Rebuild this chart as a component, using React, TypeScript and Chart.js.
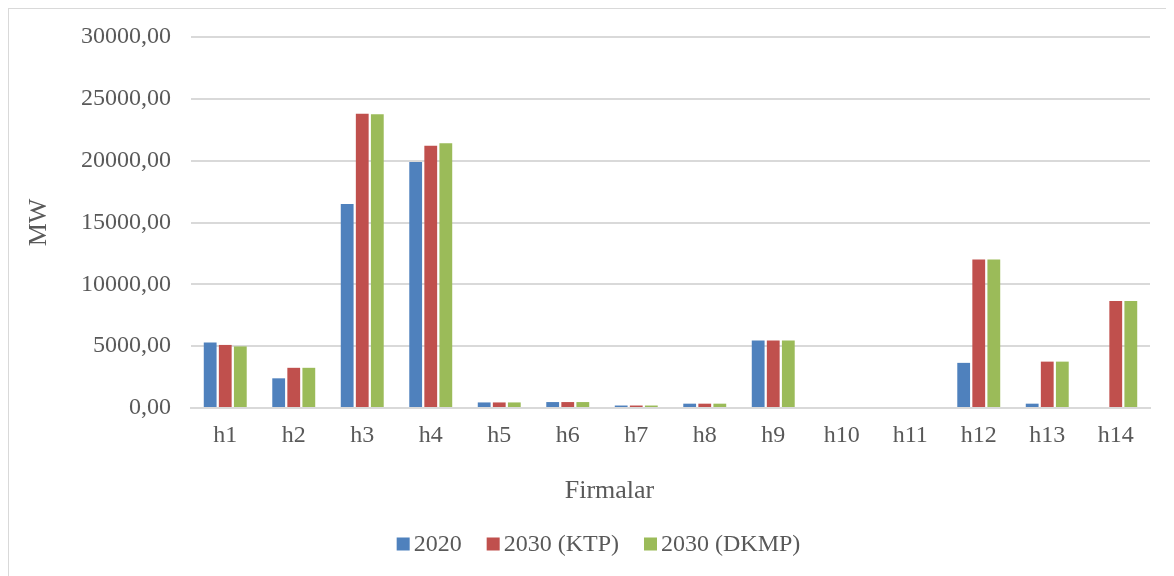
import React, { useEffect, useRef } from "react";
import { Chart, registerables } from "chart.js";

Chart.register(...registerables);

// Installed capacity per firm (MW)
const categories = ["h1", "h2", "h3", "h4", "h5", "h6", "h7", "h8", "h9", "h10", "h11", "h12", "h13", "h14"];
const series2020 = [5300, 2400, 16500, 19900, 450, 480, 200, 350, 5450, 0, 0, 3650, 350, 0];
const series2030KTP = [5100, 3250, 23800, 21200, 450, 480, 200, 350, 5450, 0, 0, 12000, 3750, 8650];
const series2030DKMP = [4980, 3250, 23750, 21400, 450, 480, 200, 350, 5450, 0, 0, 12000, 3750, 8650];
const seriesNames = ["2020", "2030 (KTP)", "2030 (DKMP)"];
const seriesColors = ["#4F81BD", "#C0504D", "#9BBB59"];

const yMin = 0;
const yMax = 30000;
const yStep = 5000;
const xTitle = "Firmalar";
const yTitle = "MW";

const FONT = "'Liberation Serif', 'Times New Roman', serif";
const TEXT = "#595959";
const GRID = "#D9D9D9";

// Category axis title and legend, both centred on the frame below the plot
const bottomTextPlugin = {
  id: "bottomText",
  afterDraw(chart: any) {
    const ctx = chart.ctx;
    const cx = chart.width / 2 + 7;
    ctx.save();

    // axis title
    ctx.font = `26px ${FONT}`;
    ctx.fillStyle = TEXT;
    ctx.textAlign = "center";
    ctx.textBaseline = "middle";
    ctx.fillText(xTitle, cx + 11, 482);

    // legend
    const size = 24;
    const box = 13;
    const gap = 4;
    const spacing = 25;
    ctx.font = `${size}px ${FONT}`;
    ctx.textAlign = "left";
    const items = chart.data.datasets.map((ds: any) => ({
      label: ds.label,
      color: ds.backgroundColor,
      w: box + gap + ctx.measureText(ds.label).width,
    }));
    const total = items.reduce((s: number, it: any) => s + it.w, 0) + spacing * (items.length - 1);
    const cy = 535;
    let x = cx - total / 2;
    for (const it of items) {
      ctx.fillStyle = it.color;
      ctx.fillRect(x, cy - box / 2, box, box);
      ctx.fillStyle = TEXT;
      ctx.fillText(it.label, x + box + gap, cy + 1);
      x += it.w + spacing;
    }
    ctx.restore();
  },
};

export default function App() {
  const canvasRef = useRef<HTMLCanvasElement | null>(null);

  useEffect(() => {
    if (!canvasRef.current) return;
    const values = [series2020, series2030KTP, series2030DKMP];
    const chart = new Chart(canvasRef.current, {
      type: "bar",
      data: {
        labels: categories,
        datasets: values.map((v, i) => ({
          label: seriesNames[i],
          data: v,
          backgroundColor: seriesColors[i],
          borderWidth: 0,
          categoryPercentage: 0.66,
          barPercentage: 0.85,
        })),
      },
      options: {
        animation: false,
        responsive: true,
        maintainAspectRatio: false,
        layout: { padding: { left: 14, right: 24, top: 28, bottom: 70 } },
        plugins: {
          legend: { display: false },
          tooltip: { enabled: false },
        },
        scales: {
          x: {
            grid: { display: false, drawTicks: false },
            border: { display: true, color: GRID, width: 2 },
            ticks: {
              color: TEXT,
              font: { family: FONT, size: 24 },
              padding: 13,
              maxRotation: 0,
              autoSkip: false,
            },
            afterFit: (scale: any) => {
              scale.height = 98;
            },
          },
          y: {
            min: yMin,
            max: yMax,
            grid: { color: GRID, lineWidth: 2, drawTicks: false },
            border: { display: false },
            ticks: {
              stepSize: yStep,
              color: TEXT,
              font: { family: FONT, size: 24 },
              padding: 20,
              callback: (v: any) => Number(v).toFixed(2).replace(".", ","),
            },
            title: {
              display: true,
              text: yTitle,
              color: TEXT,
              font: { family: FONT, size: 26 },
              padding: { top: 1, bottom: 0 },
            },
            afterFit: (scale: any) => {
              scale.width = 168;
              scale.paddingTop = 0;
              scale.paddingBottom = 0;
            },
          },
        },
      },
      plugins: [bottomTextPlugin],
    });
    return () => chart.destroy();
  }, []);

  return (
    <div
      style={{
        width: 1166,
        height: 568,
        boxSizing: "border-box",
        borderTop: `1px solid ${GRID}`,
        borderLeft: `1px solid ${GRID}`,
        background: "#fff",
        position: "relative",
      }}
    >
      <canvas ref={canvasRef} />
    </div>
  );
}
